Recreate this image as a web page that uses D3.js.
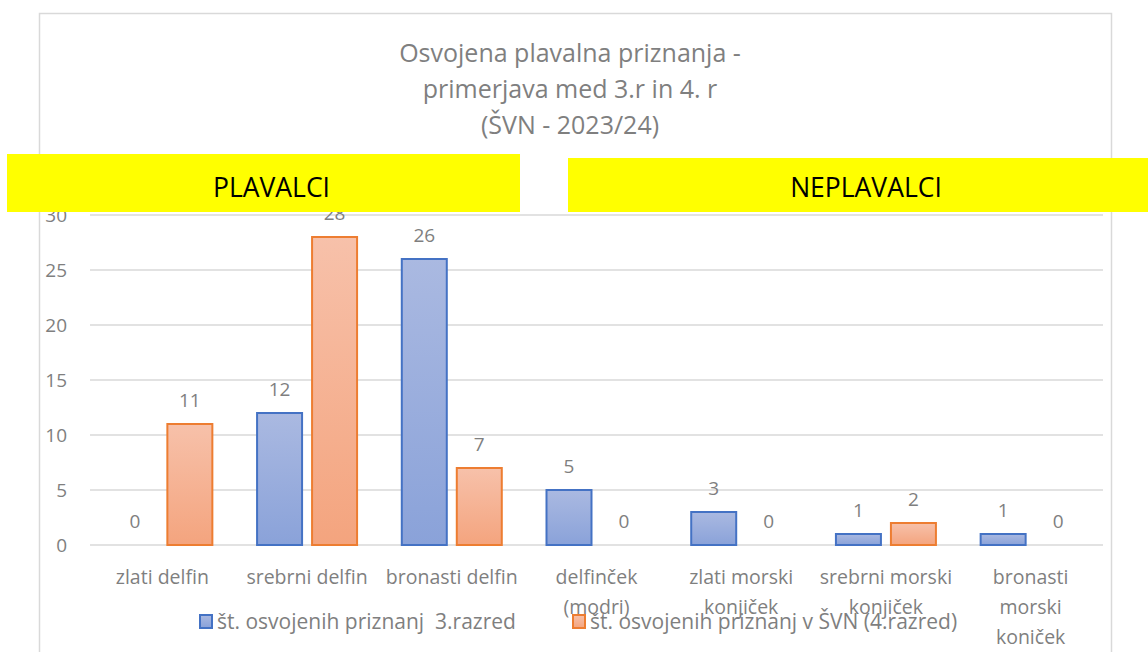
<!DOCTYPE html>
<html>
<head>
<meta charset="utf-8">
<script src="https://cdn.jsdelivr.net/npm/d3@7"></script>
<style>
  body { margin: 0; background: #fff; }
  text { font-family: "Open Sans", "Noto Sans", sans-serif; }
</style>
</head>
<body>
<svg id="chart"></svg>
<script>
// data
const categories = [
  ["zlati delfin"],
  ["srebrni delfin"],
  ["bronasti delfin"],
  ["delfinček", "(modri)"],
  ["zlati morski", "konjiček"],
  ["srebrni morski", "konjiček"],
  ["bronasti", "morski", "koniček"]
];
const series3r = [0, 12, 26, 5, 3, 1, 1];
const series4r = [11, 28, 7, 0, 0, 2, 0];
const seriesNames = ["št. osvojenih priznanj  3.razred", "št. osvojenih priznanj v ŠVN (4.razred)"];
const yTicks = [0, 5, 10, 15, 20, 25, 30];
const titleLines = ["Osvojena plavalna priznanja -", "primerjava med 3.r in 4. r", "(ŠVN - 2023/24)"];

const W = 1148, H = 652;
const svg = d3.select("#chart").attr("width", W).attr("height", H);
const defs = svg.append("defs");

function grad(id, top, bottom) {
  const g = defs.append("linearGradient").attr("id", id)
    .attr("x1", 0).attr("y1", 0).attr("x2", 0).attr("y2", 1);
  g.append("stop").attr("offset", "0%").attr("stop-color", top);
  g.append("stop").attr("offset", "100%").attr("stop-color", bottom);
}
grad("gBlue", "#aab9e1", "#8aa2d9");
grad("gOrange", "#f7c1aa", "#f4a47e");

// chart border
svg.append("rect")
  .attr("x", 39.5).attr("y", 13.5).attr("width", 1072).attr("height", 700)
  .attr("fill", "none").attr("stroke", "#d9d9d9").attr("stroke-width", 1.5);

// title
svg.append("g").selectAll("text").data(titleLines).join("text")
  .attr("x", 570).attr("y", (d, i) => 62 + i * 36)
  .attr("text-anchor", "middle")
  .attr("font-size", 25).attr("fill", "#7f7f7f")
  .text(d => d);

const x0 = d3.scaleBand().domain(d3.range(categories.length)).range([90, 1103]);
const y = d3.scaleLinear().domain([0, 30]).range([545, 215]);
const barW = 45, gap = 10;

// grid
svg.append("g").selectAll("line").data(yTicks).join("line")
  .attr("x1", 90).attr("x2", 1103)
  .attr("y1", d => y(d)).attr("y2", d => y(d))
  .attr("stroke", "#d9d9d9").attr("stroke-width", 1.5);

// y tick labels
svg.append("g").selectAll("text").data(yTicks).join("text")
  .attr("x", 67).attr("y", d => y(d) + 7)
  .attr("text-anchor", "end")
  .attr("font-size", 19).attr("fill", "#7f7f7f")
  .text(d => d);

const series = [
  { vals: series3r, fill: "url(#gBlue)", stroke: "#4472c4", off: -(barW + gap) / 2 },
  { vals: series4r, fill: "url(#gOrange)", stroke: "#ed7d31", off: (barW + gap) / 2 }
];

series.forEach(s => {
  const cx = i => x0(i) + x0.bandwidth() / 2 + s.off;
  svg.append("g").selectAll("rect").data(s.vals.map((v, i) => ({ v, i })).filter(d => d.v > 0)).join("rect")
    .attr("x", d => cx(d.i) - barW / 2)
    .attr("y", d => y(d.v))
    .attr("width", barW)
    .attr("height", d => y(0) - y(d.v))
    .attr("fill", s.fill).attr("stroke", s.stroke).attr("stroke-width", 2);
  svg.append("g").selectAll("text").data(s.vals).join("text")
    .attr("x", (d, i) => cx(i))
    .attr("y", d => y(d) - 17)
    .attr("text-anchor", "middle")
    .attr("font-size", 19).attr("fill", "#7f7f7f")
    .text(d => d);
});

// category labels
const catG = svg.append("g").selectAll("text").data(categories).join("text")
  .attr("text-anchor", "middle")
  .attr("font-size", 19.5).attr("fill", "#7f7f7f");
catG.selectAll("tspan").data((d, i) => d.map(t => ({ t, i }))).join("tspan")
  .attr("x", d => x0(d.i) + x0.bandwidth() / 2)
  .attr("y", (d, j) => 584 + j * 30)
  .text(d => d.t);

// legend
const legend = [
  { name: seriesNames[0], fill: "url(#gBlue)", stroke: "#4472c4", x: 200 },
  { name: seriesNames[1], fill: "url(#gOrange)", stroke: "#ed7d31", x: 573 }
];
const lg = svg.append("g").selectAll("g").data(legend).join("g")
  .attr("transform", d => `translate(${d.x},615)`);
lg.append("rect").attr("width", 12).attr("height", 13)
  .attr("fill", d => d.fill).attr("stroke", d => d.stroke).attr("stroke-width", 2);
lg.append("text").attr("x", 17).attr("y", 14)
  .attr("font-size", 21).attr("fill", "#7f7f7f")
  .attr("xml:space", "preserve")
  .style("white-space", "pre")
  .text(d => d.name);

// group banners
const banners = [
  { label: "PLAVALCI", x: 7, y: 154, w: 513, h: 58 },
  { label: "NEPLAVALCI", x: 568, y: 158, w: 580, h: 54 }
];
const bg = svg.append("g").selectAll("g").data(banners).join("g");
bg.append("rect")
  .attr("x", d => d.x).attr("y", d => d.y).attr("width", d => d.w).attr("height", d => d.h)
  .attr("fill", "#ffff00");
bg.append("text")
  .attr("x", d => d.x + d.w / 2 + 8).attr("y", 197)
  .attr("text-anchor", "middle")
  .attr("font-size", 26.5).attr("fill", "#000")
  .text(d => d.label);
</script>
</body>
</html>
